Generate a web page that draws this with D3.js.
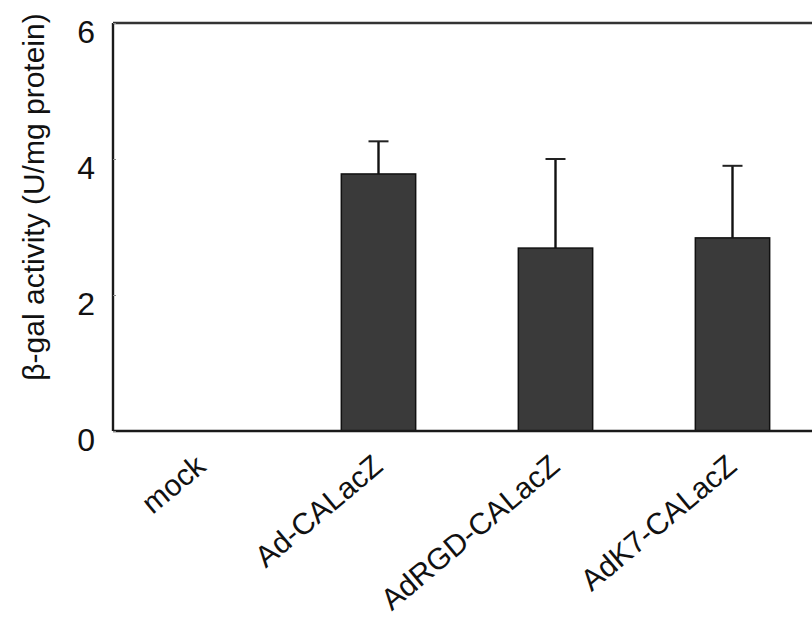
<!DOCTYPE html>
<html>
<head>
<meta charset="utf-8">
<script src="https://cdn.jsdelivr.net/npm/d3@7"></script>
<style>
  html, body { margin: 0; padding: 0; background: #fff; }
  svg { display: block; }
  text { font-family: "Liberation Sans", Arial, sans-serif; fill: #111; }
</style>
</head>
<body>
<svg id="chart" width="812" height="618"></svg>
<script>
// Beta-galactosidase activity per construct (mean and upper SD)
const categories = ["mock", "Ad-CALacZ", "AdRGD-CALacZ", "AdK7-CALacZ"];
const means = [0, 3.78, 2.69, 2.84];
const sdUpper = [0, 0.48, 1.31, 1.06];
const yTicks = [0, 2, 4, 6];
const yTitle = "β-gal activity (U/mg protein)";

const svg = d3.select("#chart");
const plotLeft = 113, plotRight = 821, plotTop = 23, plotBottom = 431;

const x = d3.scaleBand()
  .domain(categories)
  .range([plotLeft, plotRight])
  .paddingInner(0.58)
  .paddingOuter(0.29);

const y = d3.scaleLinear().domain([0, 6]).range([plotBottom, plotTop]);

const rows = categories.map((c, i) => ({ c, m: means[i], e: sdUpper[i] }));

// error bars (upper only), drawn behind the bars
const errG = svg.append("g");
rows.filter(d => d.e > 0).forEach(d => {
  const cx = x(d.c) + x.bandwidth() / 2;
  errG.append("line")
    .attr("x1", cx).attr("x2", cx)
    .attr("y1", y(d.m)).attr("y2", y(d.m + d.e))
    .attr("stroke", "#111").attr("stroke-width", 2.4);
  errG.append("line")
    .attr("x1", cx - 10).attr("x2", cx + 10)
    .attr("y1", y(d.m + d.e)).attr("y2", y(d.m + d.e))
    .attr("stroke", "#222").attr("stroke-width", 2);
});

// bars
svg.append("g").selectAll("rect")
  .data(rows.filter(d => d.m > 0))
  .join("rect")
  .attr("x", d => x(d.c))
  .attr("y", d => y(d.m))
  .attr("width", x.bandwidth())
  .attr("height", d => y(0) - y(d.m))
  .attr("fill", "#3a3a3a")
  .attr("stroke", "#111")
  .attr("stroke-width", 1.5);

// frame: left axis, baseline and top border
const frame = svg.append("g").attr("stroke", "#1a1a1a").attr("stroke-width", 2.4).attr("fill", "none");
frame.append("line").attr("x1", plotLeft).attr("x2", plotLeft).attr("y1", plotTop).attr("y2", plotBottom);
frame.append("line").attr("x1", plotLeft).attr("x2", plotRight).attr("y1", plotBottom).attr("y2", plotBottom);
frame.append("line").attr("x1", plotLeft).attr("x2", plotRight).attr("y1", plotTop).attr("y2", plotTop).attr("stroke", "#333");

// y axis ticks and labels
const yAxis = d3.axisLeft(y).tickValues(yTicks).tickSize(-3).tickPadding(18).tickFormat(d3.format("d"));
const gy = svg.append("g").attr("transform", `translate(${plotLeft},0)`).call(yAxis);
gy.select(".domain").remove();
gy.selectAll(".tick line").attr("stroke", "#888").attr("stroke-width", 1);
gy.selectAll(".tick text")
  .attr("font-size", 32)
  .attr("dy", "0.6em")
  .attr("font-family", "Liberation Sans, Arial, sans-serif")
  .attr("fill", "#111");

// rotated category labels
svg.append("g").selectAll("text")
  .data(categories)
  .join("text")
  .attr("transform", d => `translate(${x(d) + x.bandwidth() / 2 + 6},469) rotate(-40)`)
  .attr("text-anchor", "end")
  .attr("font-size", 30)
  .text(d => d);

// y axis title
svg.append("text")
  .attr("transform", "translate(44,197) rotate(-90)")
  .attr("text-anchor", "middle")
  .attr("font-size", 30)
  .text(yTitle);
</script>
</body>
</html>
